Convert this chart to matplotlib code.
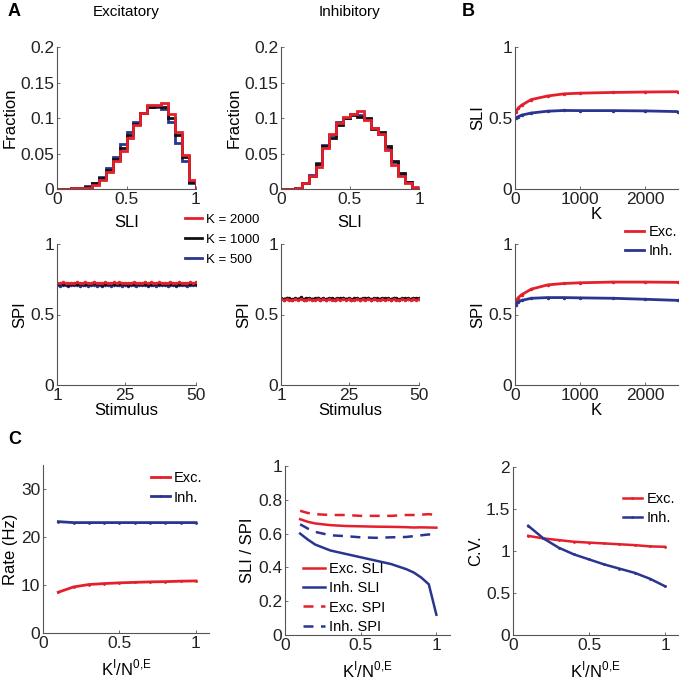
import numpy as np
import matplotlib
matplotlib.use('Agg')
import matplotlib.pyplot as plt

plt.rcParams['font.family'] = ['Liberation Sans', 'DejaVu Sans']
plt.rcParams['mathtext.fontset'] = 'custom'
plt.rcParams['mathtext.rm'] = 'Liberation Sans'
plt.rcParams['font.size'] = 10

RED = '#e3202b'
BLUE = '#2b3590'
BLACK = '#111111'
TICK_FS = 12.5
LAB_FS = 12

# ---- panel A: SLI histograms (bin left edges, 0.05 wide) ----
bin_edges = np.round(np.arange(0, 1.0001, 0.05), 2)
exc_k2000 = [0.0, 0.0, 0.001, 0.001, 0.002, 0.006, 0.012, 0.024, 0.039, 0.054,
             0.072, 0.090, 0.107, 0.118, 0.118, 0.121, 0.106, 0.080, 0.048, 0.012]
exc_k1000 = [0.0, 0.0, 0.001, 0.001, 0.003, 0.008, 0.015, 0.027, 0.042, 0.058,
             0.076, 0.092, 0.107, 0.116, 0.117, 0.116, 0.100, 0.076, 0.045, 0.010]
exc_k500 = [0.0, 0.0, 0.001, 0.002, 0.004, 0.009, 0.017, 0.030, 0.045, 0.063,
            0.080, 0.094, 0.107, 0.115, 0.115, 0.112, 0.095, 0.065, 0.040, 0.008]
inh_k2000 = [0.0, 0.0005, 0.002, 0.008, 0.018, 0.031, 0.058, 0.078, 0.093, 0.101,
             0.106, 0.110, 0.097, 0.086, 0.077, 0.055, 0.034, 0.018, 0.009, 0.003]
inh_k1000 = [0.0, 0.0005, 0.002, 0.009, 0.019, 0.035, 0.060, 0.072, 0.090, 0.100,
             0.104, 0.102, 0.100, 0.085, 0.080, 0.060, 0.040, 0.022, 0.010, 0.002]
inh_k500 = [0.0, 0.0005, 0.002, 0.009, 0.020, 0.036, 0.062, 0.076, 0.095, 0.100,
            0.105, 0.104, 0.098, 0.086, 0.078, 0.058, 0.038, 0.020, 0.010, 0.002]

# ---- panel A: SPI per stimulus ----
stimulus = np.arange(1, 51)
spi_exc_k2000 = [0.725, 0.722, 0.728, 0.724, 0.720, 0.726, 0.723, 0.729, 0.721, 0.725,
                 0.727, 0.722, 0.724, 0.730, 0.723, 0.726, 0.721, 0.728, 0.725, 0.722,
                 0.727, 0.724, 0.729, 0.723, 0.726, 0.720, 0.725, 0.728, 0.722, 0.726,
                 0.724, 0.729, 0.721, 0.727, 0.725, 0.723, 0.728, 0.724, 0.726, 0.722,
                 0.729, 0.725, 0.721, 0.727, 0.724, 0.726, 0.723, 0.728, 0.725, 0.727]
spi_exc_k1000 = [0.716, 0.713, 0.718, 0.715, 0.712, 0.717, 0.714, 0.719, 0.713, 0.716,
                 0.718, 0.714, 0.715, 0.720, 0.713, 0.717, 0.712, 0.718, 0.716, 0.713,
                 0.717, 0.715, 0.719, 0.714, 0.716, 0.712, 0.716, 0.718, 0.713, 0.717,
                 0.715, 0.719, 0.712, 0.717, 0.716, 0.714, 0.718, 0.715, 0.716, 0.713,
                 0.719, 0.716, 0.712, 0.717, 0.715, 0.716, 0.714, 0.718, 0.716, 0.717]
spi_exc_k500 = [0.708, 0.704, 0.711, 0.707, 0.703, 0.709, 0.706, 0.712, 0.704, 0.708,
                0.710, 0.705, 0.707, 0.712, 0.704, 0.709, 0.703, 0.710, 0.708, 0.704,
                0.709, 0.706, 0.711, 0.705, 0.708, 0.703, 0.708, 0.710, 0.704, 0.709,
                0.706, 0.711, 0.703, 0.709, 0.707, 0.705, 0.710, 0.706, 0.708, 0.704,
                0.711, 0.707, 0.703, 0.709, 0.706, 0.708, 0.705, 0.710, 0.707, 0.709]
spi_inh_k2000 = [0.607, 0.603, 0.609, 0.605, 0.601, 0.608, 0.604, 0.610, 0.602, 0.606,
                 0.609, 0.603, 0.605, 0.611, 0.603, 0.607, 0.601, 0.609, 0.606, 0.602,
                 0.608, 0.605, 0.610, 0.603, 0.607, 0.600, 0.606, 0.609, 0.602, 0.607,
                 0.605, 0.610, 0.601, 0.608, 0.606, 0.603, 0.609, 0.604, 0.607, 0.602,
                 0.610, 0.606, 0.600, 0.608, 0.604, 0.607, 0.603, 0.609, 0.605, 0.607]
spi_inh_k1000 = [0.616, 0.612, 0.619, 0.614, 0.611, 0.617, 0.613, 0.621, 0.612, 0.615,
                 0.618, 0.613, 0.614, 0.620, 0.612, 0.617, 0.611, 0.618, 0.615, 0.612,
                 0.617, 0.614, 0.619, 0.613, 0.616, 0.610, 0.615, 0.618, 0.612, 0.616,
                 0.614, 0.619, 0.611, 0.617, 0.615, 0.613, 0.618, 0.614, 0.616, 0.612,
                 0.619, 0.615, 0.611, 0.617, 0.614, 0.616, 0.613, 0.618, 0.615, 0.616]
spi_inh_k500 = [0.611, 0.606, 0.614, 0.609, 0.605, 0.612, 0.608, 0.615, 0.606, 0.610,
                0.613, 0.607, 0.609, 0.614, 0.606, 0.611, 0.605, 0.613, 0.610, 0.606,
                0.612, 0.609, 0.614, 0.607, 0.611, 0.604, 0.610, 0.613, 0.606, 0.611,
                0.609, 0.614, 0.605, 0.612, 0.610, 0.607, 0.613, 0.608, 0.611, 0.606,
                0.614, 0.610, 0.605, 0.612, 0.608, 0.611, 0.607, 0.613, 0.609, 0.611]

# ---- panel B: indices vs K ----
k_values = [10, 50, 100, 250, 500, 750, 1000, 1500, 2000, 2500]
sli_exc_k = [0.54, 0.57, 0.59, 0.630, 0.655, 0.670, 0.675, 0.680, 0.683, 0.685]
sli_inh_k = [0.50, 0.51, 0.52, 0.535, 0.548, 0.553, 0.552, 0.552, 0.550, 0.545]
spi_exc_k = [0.59, 0.62, 0.64, 0.680, 0.710, 0.720, 0.725, 0.730, 0.730, 0.728]
spi_inh_k = [0.57, 0.59, 0.60, 0.615, 0.620, 0.620, 0.618, 0.615, 0.608, 0.600]

# ---- panel C: vs K^I / N^{0,E} ----
ratio = [0.1, 0.2, 0.3, 0.4, 0.5, 0.6, 0.7, 0.8, 0.9, 1.0]
rate_exc = [8.5, 9.6, 10.1, 10.3, 10.45, 10.55, 10.65, 10.7, 10.8, 10.85]
rate_inh = [23.2, 23.0, 23.0, 23.0, 23.0, 23.0, 23.0, 23.0, 23.0, 23.0]

ratio_fine = [0.1, 0.15, 0.2, 0.3, 0.4, 0.5, 0.6, 0.7, 0.8, 0.85, 0.9, 0.95, 1.0]
sli_exc_r = [0.685, 0.670, 0.660, 0.650, 0.645, 0.643, 0.641, 0.640, 0.638, 0.636, 0.637, 0.636, 0.635]
sli_inh_r = [0.600, 0.565, 0.535, 0.500, 0.480, 0.460, 0.440, 0.420, 0.390, 0.370, 0.340, 0.300, 0.120]
spi_exc_r = [0.735, 0.722, 0.715, 0.710, 0.710, 0.705, 0.705, 0.705, 0.710, 0.710, 0.712, 0.715, 0.710]
spi_inh_r = [0.655, 0.630, 0.610, 0.590, 0.585, 0.578, 0.575, 0.578, 0.580, 0.585, 0.590, 0.595, 0.590]

cv_exc = [1.18, 1.15, 1.13, 1.11, 1.10, 1.09, 1.08, 1.07, 1.055, 1.05]
cv_inh = [1.30, 1.15, 1.04, 0.96, 0.90, 0.84, 0.79, 0.74, 0.67, 0.58]

W = H = 683.0
fig = plt.figure(figsize=(6.83, 6.83), dpi=100)


def add_ax(left, top, right, bottom):
    ax = fig.add_axes([left / W, 1 - bottom / H, (right - left) / W, (bottom - top) / H])
    for s in ['top', 'right']:
        ax.spines[s].set_visible(False)
    for s in ['left', 'bottom']:
        ax.spines[s].set_color('#555555')
        ax.spines[s].set_linewidth(0.8)
    ax.tick_params(direction='in', length=2.5, width=0.6, color='#555555',
                   labelsize=TICK_FS, pad=2, labelcolor='#222222')
    return ax


# A histograms
for left, right, data, title in [(57, 196, (exc_k500, exc_k1000, exc_k2000), 'Excitatory'),
                                 (281, 419, (inh_k500, inh_k1000, inh_k2000), 'Inhibitory')]:
    ax = add_ax(left, 47, right, 189)
    for vals, col in zip(data, [BLUE, BLACK, RED]):
        ax.stairs(vals, bin_edges, color=col, lw=2)
    ax.set_xlim(0, 1)
    ax.set_ylim(0, 0.2)
    ax.set_xticks([0, 0.5, 1])
    ax.set_xticklabels(['0', '0.5', '1'])
    ax.set_yticks([0, 0.05, 0.1, 0.15, 0.2])
    ax.set_yticklabels(['0', '0.05', '0.1', '0.15', '0.2'])
    ax.set_xlabel('SLI', fontsize=LAB_FS, labelpad=6)
    ax.set_ylabel('Fraction', fontsize=LAB_FS, labelpad=2)
    fig.text((left + right) / 2 / W, 1 - 12 / H, title, ha='center', va='center', fontsize=11)

# A SPI per stimulus
for left, right, data in [(57, 196, (spi_exc_k500, spi_exc_k1000, spi_exc_k2000)),
                          (281, 419, (spi_inh_k500, spi_inh_k1000, spi_inh_k2000))]:
    ax = add_ax(left, 244, right, 385)
    for vals, col in zip(data, [BLUE, BLACK, RED]):
        ax.plot(stimulus, vals, color=col, lw=1, marker='.', ms=3)
    ax.set_xlim(1, 50)
    ax.set_ylim(0, 1)
    ax.set_xticks([1, 25, 50])
    ax.set_yticks([0, 0.5, 1])
    ax.set_yticklabels(['0', '0.5', '1'])
    ax.set_xlabel('Stimulus', fontsize=LAB_FS, labelpad=0)
    ax.set_ylabel('SPI', fontsize=LAB_FS, labelpad=2)

# A legend
handles = [plt.Line2D([], [], color=c, lw=2) for c in [RED, BLACK, BLUE]]
fig.legend(handles, ['K = 2000', 'K = 1000', 'K = 500'], loc='upper left',
           bbox_to_anchor=(180 / W, 1 - 208 / H), frameon=False, fontsize=9.5,
           handlelength=1.3, handletextpad=0.3, labelspacing=0.6, borderaxespad=0)

# B
for top, bottom, ex, inh, lab in [(47, 189, sli_exc_k, sli_inh_k, 'SLI'),
                                  (244, 385, spi_exc_k, spi_inh_k, 'SPI')]:
    ax = add_ax(515, top, 678, bottom)
    ax.plot(k_values, ex, color=RED, lw=2, marker='.', ms=3)
    ax.plot(k_values, inh, color=BLUE, lw=2, marker='.', ms=3)
    ax.set_xlim(0, 2500)
    ax.set_ylim(0, 1)
    ax.set_xticks([0, 1000, 2000])
    ax.set_yticks([0, 0.5, 1])
    ax.set_yticklabels(['0', '0.5', '1'])
    ax.set_xlabel('K', fontsize=LAB_FS, labelpad=0)
    ax.set_ylabel(lab, fontsize=LAB_FS, labelpad=2)

handles = [plt.Line2D([], [], color=c, lw=2) for c in [RED, BLUE]]
fig.legend(handles, ['Exc.', 'Inh.'], loc='upper left',
           bbox_to_anchor=(612 / W, 1 - 212 / H), frameon=False, fontsize=10.5,
           handlelength=1.3, handletextpad=0.3, labelspacing=0.35)

xlab_c = r'K$^{\rm I}$/N$^{\rm 0{,}E}$'

# C rate
ax = add_ax(43, 465, 209, 633)
ax.plot(ratio, rate_exc, color=RED, lw=2, marker='.', ms=2, label='Exc.')
ax.plot(ratio, rate_inh, color=BLUE, lw=2, marker='.', ms=2, label='Inh.')
ax.set_xlim(0, 1.085)
ax.set_ylim(0, 35)
ax.set_xticks([0, 0.5, 1])
ax.set_xticklabels(['0', '0.5', '1'])
ax.set_yticks([0, 10, 20, 30])
ax.set_xlabel(xlab_c, fontsize=LAB_FS, labelpad=5)
ax.set_ylabel('Rate (Hz)', fontsize=LAB_FS, labelpad=2)
ax.legend(loc='upper right', bbox_to_anchor=(1.04, 1.04), frameon=False, fontsize=10.5,
          handlelength=1.3, handletextpad=0.3, labelspacing=0.35)

# C SLI / SPI
ax = add_ax(285, 466, 450, 635)
ax.plot(ratio_fine, sli_exc_r, color=RED, lw=1.8, label='Exc. SLI')
ax.plot(ratio_fine, sli_inh_r, color=BLUE, lw=1.8, label='Inh. SLI')
ax.plot(ratio_fine, spi_exc_r, color=RED, lw=1.8, ls=(0, (4, 3)), label='Exc. SPI')
ax.plot(ratio_fine, spi_inh_r, color=BLUE, lw=1.8, ls=(0, (4, 3)), label='Inh. SPI')
ax.set_xlim(0, 1.09)
ax.set_ylim(0, 1)
ax.set_xticks([0, 0.5, 1])
ax.set_xticklabels(['0', '0.5', '1'])
ax.set_yticks([0, 0.2, 0.4, 0.6, 0.8, 1])
ax.set_yticklabels(['0', '0.2', '0.4', '0.6', '0.8', '1'])
ax.set_xlabel(xlab_c, fontsize=LAB_FS, labelpad=5)
ax.set_ylabel('SLI / SPI', fontsize=LAB_FS, labelpad=2)
ax.legend(loc='lower left', bbox_to_anchor=(0.03, -0.07), frameon=False, fontsize=10.5,
          handlelength=1.5, handletextpad=0.3, labelspacing=0.35)

# C CV
ax = add_ax(513, 467, 678, 635)
ax.plot(ratio, cv_exc, color=RED, lw=1.8, marker='.', ms=2, label='Exc.')
ax.plot(ratio, cv_inh, color=BLUE, lw=1.8, marker='.', ms=2, label='Inh.')
ax.set_xlim(0, 1.085)
ax.set_ylim(0, 2)
ax.set_xticks([0, 0.5, 1])
ax.set_xticklabels(['0', '0.5', '1'])
ax.set_yticks([0, 0.5, 1, 1.5, 2])
ax.set_yticklabels(['0', '0.5', '1', '1.5', '2'])
ax.set_xlabel(xlab_c, fontsize=LAB_FS, labelpad=5)
ax.set_ylabel('C.V.', fontsize=LAB_FS, labelpad=2)
ax.legend(loc='upper right', bbox_to_anchor=(1.06, 0.93), frameon=False, fontsize=10.5,
          handlelength=1.3, handletextpad=0.3, labelspacing=0.35)

# panel letters
for x, y, s in [(8, 12, 'A'), (462, 12, 'B'), (8, 440, 'C')]:
    fig.text(x / W, 1 - y / H, s, fontsize=13, fontweight='bold', va='center', ha='left')

fig.savefig('out.png', dpi=100)
